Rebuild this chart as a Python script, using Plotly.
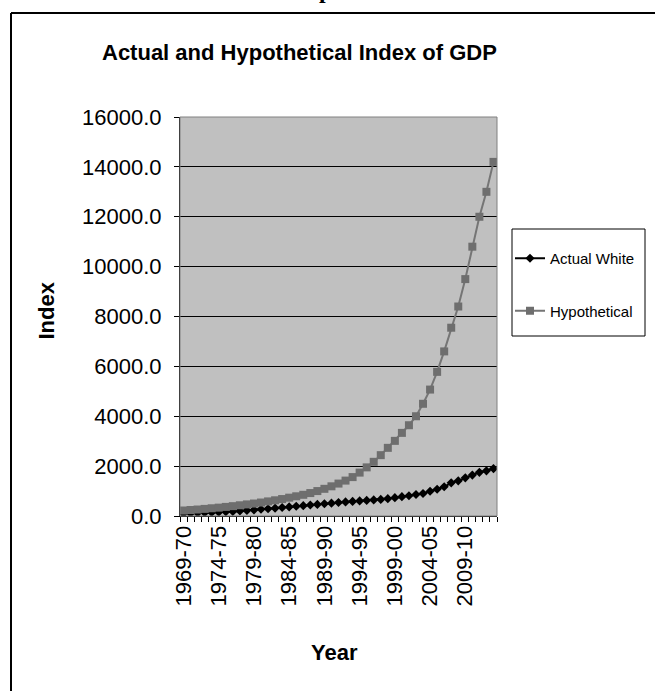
import plotly.graph_objects as go

years = [f"{y}-{str(y + 1)[-2:]}" for y in range(1969, 2014)]
tick_labels = years[::5]

actual_white = [100, 108, 118, 130, 142, 155, 170, 185, 205, 225,
                245, 268, 290, 315, 340, 365, 390, 415, 440, 465,
                490, 515, 540, 565, 585, 605, 625, 645, 665, 695,
                735, 775, 815, 865, 905, 990, 1070, 1170, 1330, 1410,
                1530, 1640, 1750, 1810, 1900]

hypothetical = [220, 240, 260, 285, 310, 335, 365, 395, 430, 465,
                500, 540, 585, 630, 680, 735, 790, 850, 920, 1000,
                1090, 1190, 1300, 1420, 1560, 1740, 1950, 2173, 2440, 2733,
                3013, 3333, 3640, 4000, 4500, 5070, 5780, 6600, 7550, 8400,
                9500, 10800, 12000, 13000, 14200]

FONT = "Liberation Sans, Arial, sans-serif"
L, R, T, B = 180, 158, 117, 175
W, H = 655, 691
PW, PH = W - L - R, H - T - B


def px(x):
    return (x - L) / PW


def py(y):
    return (H - B - y) / PH


xi = list(range(len(years)))

fig = go.Figure()
fig.add_trace(go.Scatter(
    x=xi, y=actual_white, name="Actual White", mode="lines+markers",
    line=dict(color="black", width=2),
    marker=dict(symbol="diamond", size=7, color="black"),
    legendgroup="a"))
fig.add_trace(go.Scatter(
    x=xi, y=hypothetical, name="Hypothetical", mode="lines+markers",
    line=dict(color="#757575", width=2),
    marker=dict(symbol="square", size=8, color="#6e6e6e"),
    legendgroup="b"))

fig.update_layout(
    width=W, height=H,
    margin=dict(l=L, r=R, t=T, b=B, pad=0),
    paper_bgcolor="white", plot_bgcolor="#c0c0c0",
    font=dict(family=FONT, color="black", size=22),
    showlegend=True,
    legend=dict(
        x=px(510), y=py(242), xanchor="left", yanchor="top",
        bgcolor="rgba(0,0,0,0)", borderwidth=0,
        font=dict(size=15, family=FONT),
        traceorder="grouped", tracegroupgap=30,
        itemwidth=30,
    ),
    xaxis=dict(
        range=[-0.5, len(years) - 0.5],
        tickmode="array", tickvals=xi[::5], ticktext=tick_labels,
        tickangle=-90, ticks="", showgrid=False, zeroline=False,
        showline=True, linecolor="black", linewidth=1,
        tickfont=dict(size=22, family=FONT),
        minor=dict(tick0=-0.5, dtick=1, ticks="outside", ticklen=5,
                   tickcolor="black", showgrid=False),
    ),
    yaxis=dict(
        range=[0, 16000], dtick=2000, tickformat=".1f",
        ticks="outside", ticklen=5, tickcolor="black",
        ticklabelstandoff=8,
        showgrid=True, gridcolor="black", gridwidth=1,
        zeroline=False, showline=True, linecolor="black", linewidth=1,
        tickfont=dict(size=22, family=FONT),
    ),
    shapes=[
        dict(type="line", xref="paper", yref="paper",
             x0=px(11), x1=px(700), y0=py(13), y1=py(13),
             line=dict(color="black", width=2)),
        dict(type="line", xref="paper", yref="paper",
             x0=px(11), x1=px(11), y0=py(13), y1=py(720),
             line=dict(color="black", width=2)),
        dict(type="rect", xref="paper", yref="paper",
             x0=0, x1=1, y0=0, y1=1,
             line=dict(color="#808080", width=1), layer="above"),
        dict(type="rect", xref="paper", yref="paper",
             x0=px(512), x1=px(645), y0=py(229), y1=py(336),
             line=dict(color="black", width=1), layer="above"),
    ],
    annotations=[
        dict(text="<b>Actual and Hypothetical Index of GDP</b>",
             xref="paper", yref="paper", x=px(299), y=py(52.5),
             xanchor="center", yanchor="middle", showarrow=False,
             font=dict(size=22, family=FONT)),
        dict(text="<b>Index</b>", textangle=-90,
             xref="paper", yref="paper", x=px(45.5), y=py(311),
             xanchor="center", yanchor="middle", showarrow=False,
             font=dict(size=22, family=FONT)),
        dict(text="<b>Year</b>",
             xref="paper", yref="paper", x=px(334), y=py(652),
             xanchor="center", yanchor="middle", showarrow=False,
             font=dict(size=22, family=FONT)),
        dict(text="<b>p</b>",
             xref="paper", yref="paper", x=px(325), y=py(-10),
             xanchor="center", yanchor="middle", showarrow=False,
             font=dict(size=24, family="Liberation Serif, serif")),
    ],
)

fig.write_html(
    "out.html",
    config={"displayModeBar": False},
    post_script="document.body.style.margin='0';"
                "document.body.style.overflow='hidden';",
)
